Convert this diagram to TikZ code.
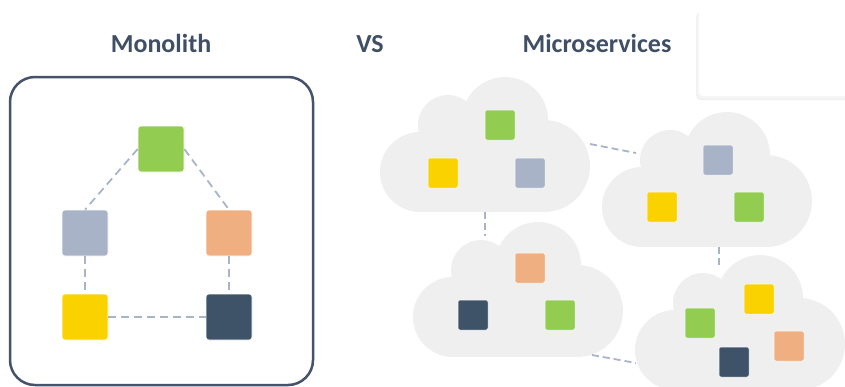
\documentclass[tikz,border=0pt]{standalone}
\usepackage{fontspec}
\setmainfont{Carlito}
\definecolor{titleblue}{HTML}{3F4F66}
\definecolor{boxblue}{HTML}{44526B}
\definecolor{linkgray}{HTML}{A9B4C8}
\definecolor{cloudgray}{HTML}{EFEFEF}
\definecolor{sqgreen}{HTML}{92CC50}
\definecolor{sqyellow}{HTML}{FAD200}
\definecolor{sqgray}{HTML}{A8B3C7}
\definecolor{sqorange}{HTML}{F0AF80}
\definecolor{sqdark}{HTML}{3F5368}
% cloud with its upper left corner at #1
\newcommand{\cloudat}[1]{
	\begin{scope}[shift={#1}]
		\fill[cloudgray] (40,95) circle[radius=40pt];
		\fill[cloudgray] (68,48) circle[radius=30pt];
		\fill[cloudgray] (125,43) circle[radius=43pt];
		\fill[cloudgray] (164,89) circle[radius=46pt];
		\fill[cloudgray] (40,60) rectangle (164,135);
	\end{scope}
}
\begin{document}
\begin{tikzpicture} [x=1pt,y=-1pt,
	title/.style={anchor=base,text=titleblue,font=\bfseries\fontsize{26}{30}\selectfont},
	bigsq/.style={shape=rectangle,minimum size=46pt,inner sep=0pt,rounded corners=3pt,draw=white,line width=0.6pt},
	smallsq/.style={shape=rectangle,minimum size=30pt,inner sep=0pt,rounded corners=2pt,draw=white,line width=0.5pt},
	link/.style={draw=linkgray,line width=1.8pt,dash pattern=on 8pt off 5pt}]
	\useasboundingbox (0,0) rectangle (845,386);

	% panel in the top right corner
	\fill[black!6,rounded corners=5pt] (696,12) rectangle (860,100);
	\fill[black!4,rounded corners=5pt] (697,12) rectangle (860,98.5);
	\fill[white,rounded corners=4pt] (699,5) rectangle (860,96);

	\node (titleMono) at (161,52)[title] {Monolith};
	\node (titleVs) at (370,52)[title] {VS};
	\node (titleMicro) at (597,52)[title] {Microservices};

	% monolith
	\draw[boxblue,line width=2.5pt,rounded corners=25pt] (10,77) rectangle (313,385);
	\node (monoGreen) at (161,149)[bigsq,fill=sqgreen] {};
	\node (monoGray) at (85,233)[bigsq,fill=sqgray] {};
	\node (monoOrange) at (229,233)[bigsq,fill=sqorange] {};
	\node (monoYellow) at (85,317)[bigsq,fill=sqyellow] {};
	\node (monoDark) at (229,317)[bigsq,fill=sqdark] {};
	\draw[link] (monoGreen.west) -- (monoGray.north);
	\draw[link] (monoGreen.east) -- (monoOrange.north);
	\draw[link] (monoGray.south) -- (monoYellow.north);
	\draw[link] (monoOrange.south) -- (monoDark.north);
	\draw[link] (monoYellow.east) -- (monoDark.west);

	% microservices
	\cloudat{(380,77)}
	\cloudat{(602,112)}
	\cloudat{(413,222)}
	\cloudat{(635,255)}

	\coordinate (cloudAeast) at (590,144);
	\coordinate (cloudAsouth) at (485,212);
	\coordinate (cloudBwest) at (636,153);
	\coordinate (cloudBsouth) at (719,247);
	\coordinate (cloudCnorth) at (485,236);
	\coordinate (cloudCeast) at (592,355);
	\coordinate (cloudDnorth) at (719,268);
	\coordinate (cloudDwest) at (636,363);
	\draw[link,dash pattern=on 7pt off 4pt] (cloudAeast) -- (cloudBwest);
	\draw[link,dash pattern=on 7pt off 4pt] (cloudAsouth) -- (cloudCnorth);
	\draw[link,dash pattern=on 7pt off 4pt] (cloudBsouth) -- (cloudDnorth);
	\draw[link,dash pattern=on 7pt off 4pt] (cloudCeast) -- (cloudDwest);

	\node (aGreen) at (500,125)[smallsq,fill=sqgreen] {};
	\node (aYellow) at (443,173)[smallsq,fill=sqyellow] {};
	\node (aGray) at (530,173)[smallsq,fill=sqgray] {};

	\node (bGray) at (718,160)[smallsq,fill=sqgray] {};
	\node (bYellow) at (662,207)[smallsq,fill=sqyellow] {};
	\node (bGreen) at (749,207)[smallsq,fill=sqgreen] {};

	\node (cOrange) at (530,268)[smallsq,fill=sqorange] {};
	\node (cDark) at (473,315)[smallsq,fill=sqdark] {};
	\node (cGreen) at (560,315)[smallsq,fill=sqgreen] {};

	\node (dYellow) at (759,299)[smallsq,fill=sqyellow] {};
	\node (dGreen) at (700,323)[smallsq,fill=sqgreen] {};
	\node (dDark) at (734,362)[smallsq,fill=sqdark] {};
	\node (dOrange) at (789,346)[smallsq,fill=sqorange] {};
\end{tikzpicture}
\end{document}
